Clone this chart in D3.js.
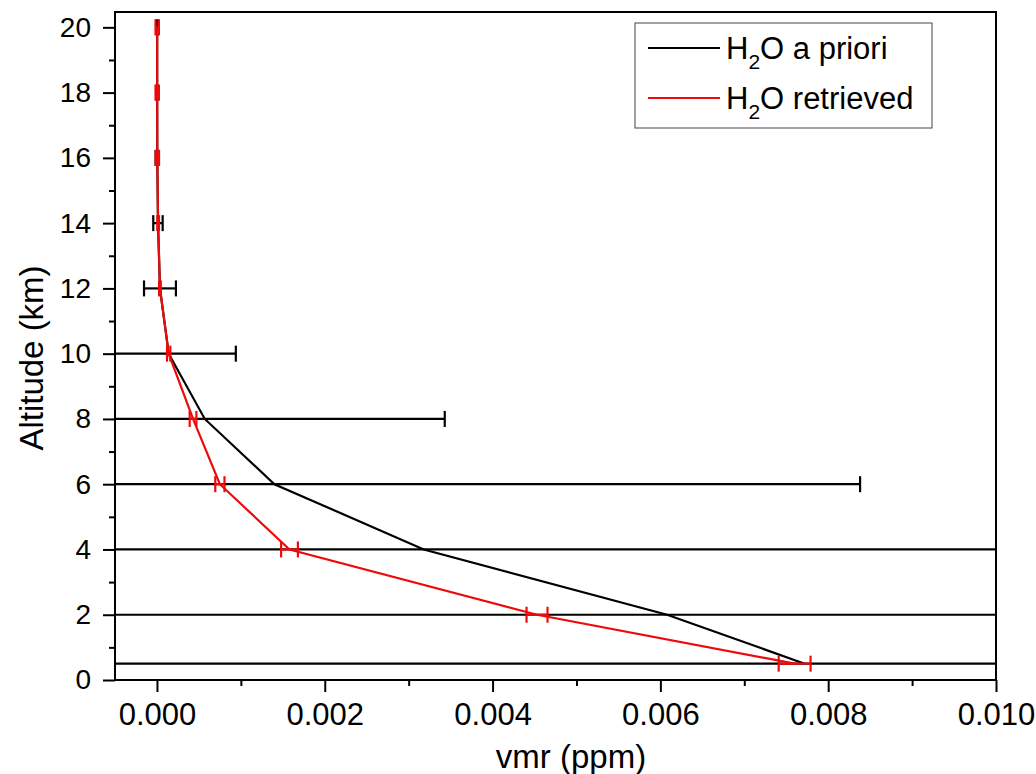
<!DOCTYPE html>
<html>
<head>
<meta charset="utf-8">
<script src="https://cdn.jsdelivr.net/npm/d3@7"></script>
<style>
  body { margin: 0; background: #fff; }
  svg { font-family: "Liberation Sans", Arial, sans-serif; }
</style>
</head>
<body>
<svg id="chart" width="1036" height="774"></svg>
<script>
// altitude levels (km)
const altitude = [0.5, 2, 4, 6, 8, 10, 12, 14, 16, 18, 20];
// a priori profile and its error
const aprioriVmr = [0.00772, 0.00608, 0.00318, 0.00140, 0.00057, 0.00014, 0.000036, 0.000012, 0.000004, 0.000002, 0.000002];
const aprioriErr = [0.0386, 0.0304, 0.0159, 0.00698, 0.00286, 0.00080, 0.00019, 0.000056, 0.00002, 0.00001, 0.00001];
// retrieved profile and its error
const retrievedVmr = [0.00760, 0.00453, 0.00158, 0.00075, 0.00043, 0.00014, 0.000036, 0.000014, 0.000004, 0.000003, 0.000003];
const retrievedErr = [0.00019, 0.000125, 0.0001, 0.000055, 0.00004, 0.00002, 0.00001, 0.00001, 0.00002, 0.00002, 0.00002];

const xMajor = [0, 0.002, 0.004, 0.006, 0.008, 0.010];
const xMinor = [0.001, 0.003, 0.005, 0.007, 0.009];
const yMajor = [0, 2, 4, 6, 8, 10, 12, 14, 16, 18, 20];
const yMinor = [1, 3, 5, 7, 9, 11, 13, 15, 17, 19];

const seriesNames = ["a priori", "retrieved"];
const seriesColors = ["#000000", "#ee0a0a"];

var svg = d3.select("#chart");
var plot = { left: 115, right: 996, top: 12, bottom: 680 };

var x = d3.scaleLinear().domain([-0.0005, 0.010]).range([plot.left, plot.right]);
var y = d3.scaleLinear().domain([0, 20.47]).range([plot.bottom, plot.top]);

svg.append("clipPath").attr("id", "clip")
    .append("rect")
    .attr("x", plot.left).attr("y", plot.top)
    .attr("width", plot.right - plot.left).attr("height", plot.bottom - plot.top);

// axes: major with labels, minor without
function styleAxis(g) {
    g.select(".domain").remove();
    g.selectAll("line").attr("stroke", "#000").attr("stroke-width", 2);
    g.selectAll("text").attr("fill", "#000");
}

svg.append("g")
    .attr("transform", "translate(" + plot.left + ",0)")
    .call(d3.axisLeft(y).tickValues(yMajor).tickSize(12).tickPadding(12).tickFormat(d3.format("d")))
    .call(styleAxis)
    .selectAll("text").style("font-size", "28px");

svg.append("g")
    .attr("transform", "translate(" + plot.left + ",0)")
    .call(d3.axisLeft(y).tickValues(yMinor).tickSize(6).tickFormat(""))
    .call(styleAxis);

svg.append("g")
    .attr("transform", "translate(0," + plot.bottom + ")")
    .call(d3.axisBottom(x).tickValues(xMajor).tickSize(12).tickPadding(11).tickFormat(d3.format(".3f")))
    .call(styleAxis)
    .selectAll("text").style("font-size", "31px");

svg.append("g")
    .attr("transform", "translate(0," + plot.bottom + ")")
    .call(d3.axisBottom(x).tickValues(xMinor).tickSize(6).tickFormat(""))
    .call(styleAxis);

// data
var layer = svg.append("g").attr("clip-path", "url(#clip)");
var line = d3.line().x(d => x(d.v)).y(d => y(d.a));

function drawSeries(vals, errs, color) {
    var pts = altitude.map((a, i) => ({ a: a, v: vals[i], e: errs[i] }));
    var g = layer.append("g");
    g.append("path")
        .datum(pts)
        .attr("d", line)
        .attr("fill", "none")
        .attr("stroke", color)
        .attr("stroke-width", 2.2);
    var bars = g.selectAll(".err").data(pts).enter().append("g");
    bars.append("line")
        .attr("x1", d => x(d.v - d.e)).attr("x2", d => x(d.v + d.e))
        .attr("y1", d => y(d.a)).attr("y2", d => y(d.a))
        .attr("stroke", color).attr("stroke-width", 2.2);
    [-1, 1].forEach(function(s) {
        bars.append("line")
            .attr("x1", d => x(d.v + s * d.e)).attr("x2", d => x(d.v + s * d.e))
            .attr("y1", d => y(d.a) - 8).attr("y2", d => y(d.a) + 8)
            .attr("stroke", color).attr("stroke-width", 2.2);
    });
}

drawSeries(aprioriVmr, aprioriErr, seriesColors[0]);
drawSeries(retrievedVmr, retrievedErr, seriesColors[1]);

// frame
svg.append("rect")
    .attr("x", plot.left).attr("y", plot.top)
    .attr("width", plot.right - plot.left).attr("height", plot.bottom - plot.top)
    .attr("fill", "none").attr("stroke", "#000").attr("stroke-width", 2);

// axis titles
svg.append("text")
    .attr("x", 571).attr("y", 768)
    .attr("text-anchor", "middle")
    .style("font-size", "33px")
    .text("vmr (ppm)");

svg.append("text")
    .attr("transform", "translate(43,358) rotate(-90)")
    .attr("text-anchor", "middle")
    .style("font-size", "33px")
    .text("Altitude (km)");

// legend
var legend = svg.append("g");
legend.append("rect")
    .attr("x", 635).attr("y", 23).attr("width", 297).attr("height", 105)
    .attr("fill", "#fff").attr("stroke", "#444").attr("stroke-width", 1);

seriesNames.forEach(function(name, i) {
    var ly = 48 + i * 50;
    legend.append("line")
        .attr("x1", 648).attr("x2", 720).attr("y1", ly).attr("y2", ly)
        .attr("stroke", seriesColors[i]).attr("stroke-width", 2);
    var t = legend.append("text")
        .attr("x", 726).attr("y", ly + 11)
        .style("font-size", "31px");
    t.append("tspan").text("H");
    t.append("tspan").attr("dy", 10).style("font-size", "21px").text("2");
    t.append("tspan").attr("dy", -10).text("O " + name);
});
</script>
</body>
</html>
